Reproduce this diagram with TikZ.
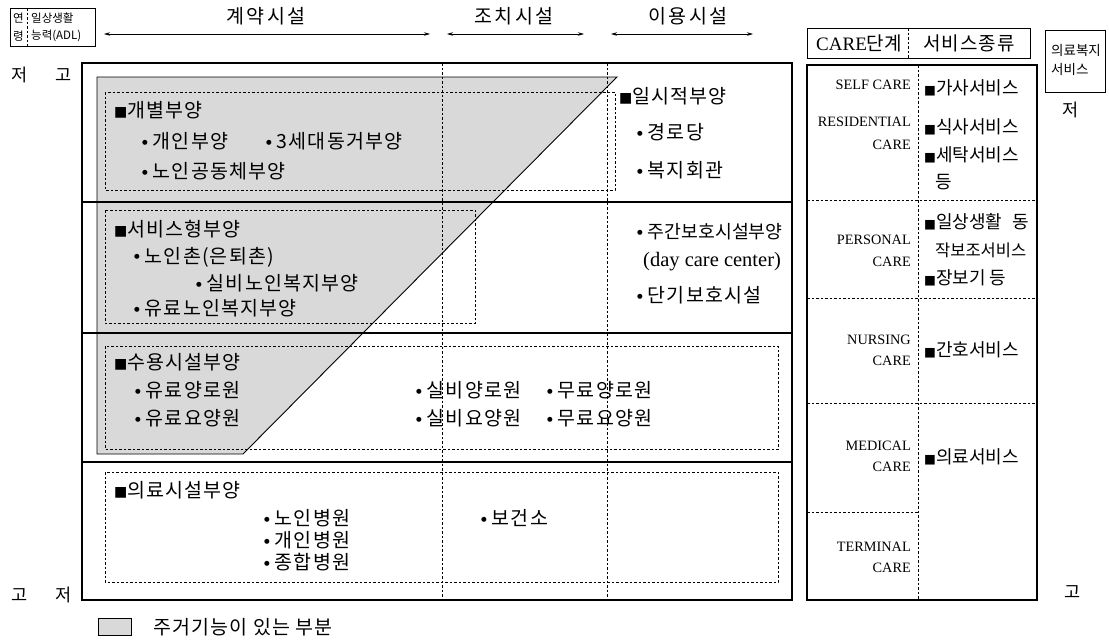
\documentclass[tikz,border=0pt]{standalone}
\usepackage{fontspec}
\setmainfont{Liberation Serif}
\newfontfamily\kr{Noto Sans CJK KR}
\newfontfamily\krw{Noto Sans CJK KR}[LetterSpace=6]
\newfontfamily\krh{Noto Sans CJK KR}[LetterSpace=12]
\newfontfamily\dv{DejaVu Sans}
\usetikzlibrary{arrows.meta}
\newcommand\sqb{{\dv\fontsize{14}{14}\selectfont\raisebox{0.5pt}{■}}}
\newcommand\sqs{{\dv\fontsize{12.5}{12}\selectfont\raisebox{0.5pt}{■}}}
\newcommand\bul{{\dv\fontsize{6.5}{7}\selectfont\raisebox{4.2pt}{●}}\hspace{5pt}}
\begin{document}
\begin{tikzpicture}[x=1pt,y=-1pt,
  kt/.style={font=\krw\fontsize{19.5}{22}\selectfont, anchor=west, inner sep=0pt},
  ks/.style={font=\kr\fontsize{18}{20}\selectfont, anchor=west, inner sep=0pt},
  hd/.style={font=\krh\fontsize{19.5}{22}\selectfont, inner sep=0pt},
  lab/.style={font=\kr\fontsize{17.5}{20}\selectfont, inner sep=0pt},
  sm/.style={font=\kr\fontsize{11.5}{13}\selectfont, inner sep=0pt, anchor=west},
  en/.style={font=\fontsize{14.3}{16}\selectfont, anchor=east, inner sep=0pt},
  dl/.style={line width=0.7pt, dash pattern=on 2.5pt off 2pt},
  sl/.style={line width=1.1pt},
  arr/.style={line width=0.7pt, {Stealth[length=6pt,width=3.5pt]}-{Stealth[length=6pt,width=3.5pt]}},
  shade/.style={fill=black!15, line width=0.9pt}]
\useasboundingbox (0,0) rectangle (1109,640);

% ---- top-left ADL box
\draw[line width=0.9pt] (10,8) rectangle (95,46);
\draw[dl] (27,8) -- (27,46);
\node[sm] (ageA) at (13,18) {연};
\node[sm] (ageB) at (13,36) {령};
\node[sm] (adlA) at (31,18) {일상생활};
\node[sm] (adlB) at (31,36) {능력(ADL)};

% ---- headings and arrows
\node[hd] (hA) at (266,16) {계약시설};
\node[hd] (hB) at (514,16) {조치시설};
\node[hd] (hC) at (688,16) {이용시설};
\coordinate (aAl) at (104,34); \coordinate (aAr) at (430,34);
\coordinate (aBl) at (447,34); \coordinate (aBr) at (584,34);
\coordinate (aCl) at (611,34); \coordinate (aCr) at (753,34);
\draw[arr] (aAl) -- (aAr);
\draw[arr] (aBl) -- (aBr);
\draw[arr] (aCl) -- (aCr);

% ---- side labels
\node[lab] (lt1) at (20,75) {저};
\node[lab] (lt2) at (64,75) {고};
\node[lab] (lb1) at (20,595) {고};
\node[lab] (lb2) at (64,595) {저};

% ---- shaded residential area
\draw[shade] (97,77) -- (617,77) -- (243,454) -- (97,454) -- cycle;

% ---- main frame
\draw[sl] (82,63) rectangle (792,600);
\draw[sl] (82,202) -- (792,202);
\draw[sl] (82,333) -- (792,333);
\draw[sl] (82,462) -- (792,462);
\draw[dl] (442,63) -- (442,600);
\draw[dl] (607,63) -- (607,600);
\draw[dl] (105,92) rectangle (615,190);
\draw[dl] (105,210) rectangle (475,323);
\draw[dl] (105,346) rectangle (778,449);
\draw[dl] (105,472) rectangle (778,582);

% ---- row 1
\node[kt] (r1a) at (114,110) {\sqb 개별부양};
\node[kt] (r1b) at (142,141) {\bul 개인부양};
\node[kt] (r1c) at (266,141) {\bul 3세대동거부양};
\node[kt] (r1d) at (142,171) {\bul 노인공동체부양};
\node[kt] (r1e) at (619,96) {\sqb 일시적부양};
\node[kt] (r1f) at (637,132) {\bul 경로당};
\node[kt] (r1g) at (637,170) {\bul 복지회관};

% ---- row 2
\node[kt] (r2a) at (114,229) {\sqb 서비스형부양};
\node[kt] (r2b) at (134,257) {\bul 노인촌(은퇴촌)};
\node[kt] (r2c) at (196,283) {\bul 실비노인복지부양};
\node[kt] (r2d) at (134,308) {\bul 유료노인복지부양};
\node[kt, font=\kr\fontsize{18.3}{22}\selectfont] (r2e) at (637,232) {\bul 주간보호시설부양};
\node[kt, font=\fontsize{20.5}{22}\selectfont] (r2f) at (643,262) {(day care center)};
\node[kt] (r2g) at (637,295) {\bul 단기보호시설};

% ---- row 3
\node[kt] (r3a) at (114,362) {\sqb 수용시설부양};
\node[kt] (r3b) at (135,390) {\bul 유료양로원};
\node[kt] (r3c) at (135,418) {\bul 유료요양원};
\node[kt] (r3d) at (416,390) {\bul 실비양로원};
\node[kt] (r3e) at (547,390) {\bul 무료양로원};
\node[kt] (r3f) at (416,418) {\bul 실비요양원};
\node[kt] (r3g) at (547,418) {\bul 무료요양원};

% ---- row 4
\node[kt] (r4a) at (114,490) {\sqb 의료시설부양};
\node[kt] (r4b) at (264,518) {\bul 노인병원};
\node[kt] (r4c) at (264,540) {\bul 개인병원};
\node[kt] (r4d) at (264,562) {\bul 종합병원};
\node[kt] (r4e) at (481,518) {\bul 보건소};

% ---- legend
\draw[shade, line width=0.8pt] (98,618) rectangle (131,635);
\node[kt] (leg) at (153,627) {주거기능이 있는 부분};

% ---- right panel header
\draw[line width=0.9pt] (807,28) rectangle (1030,58);
\draw[dl] (908,28) -- (908,58);
\node[inner sep=0pt, font=\fontsize{19}{20}\selectfont] (care) at (859,43) {CARE{\kr 단계}};
\node[hd, font=\krw\fontsize{19}{20}\selectfont] (svc) at (969,43) {서비스종류};
\draw[line width=0.9pt] (1045,30) rectangle (1105,92);
\node[sm, font=\kr\fontsize{13.5}{14}\selectfont] (mw1) at (1051,50) {의료복지};
\node[sm, font=\kr\fontsize{13.5}{14}\selectfont] (mw2) at (1051,69) {서비스};
\node[lab] (rlo) at (1071,110) {저};
\node[lab] (rhi) at (1073,592) {고};

% ---- right panel
\draw[sl] (807,65) rectangle (1037,600);
\draw[dl] (918,65) -- (918,600);
\draw[dl] (807,200) -- (1037,200);
\draw[dl] (807,298) -- (1037,298);
\draw[dl] (807,403) -- (1037,403);
\draw[dl] (807,512) -- (918,512);

\node[en] (c1) at (911,85) {SELF CARE};
\node[en] (c2a) at (911,122) {RESIDENTIAL};
\node[en] (c2b) at (911,145) {CARE};
\node[en] (c3a) at (911,240) {PERSONAL};
\node[en] (c3b) at (911,262) {CARE};
\node[en] (c4a) at (911,340) {NURSING};
\node[en] (c4b) at (911,361) {CARE};
\node[en] (c5a) at (911,446) {MEDICAL};
\node[en] (c5b) at (911,467) {CARE};
\node[en] (c6a) at (911,547) {TERMINAL};
\node[en] (c6b) at (911,568) {CARE};

\node[ks] (s1) at (924,88) {\sqs 가사서비스};
\node[ks] (s2) at (924,127) {\sqs 식사서비스};
\node[ks] (s3) at (924,155) {\sqs 세탁서비스};
\node[ks] (s3b) at (935,182) {등};
\node[ks] (s4) at (924,222) {\sqs 일상생활\hspace{10pt}동};
\node[ks, font=\kr\fontsize{16.5}{20}\selectfont] (s4b) at (935,250) {작보조서비스};
\node[ks] (s5) at (924,278) {\sqs 장보기 등};
\node[ks] (s6) at (924,350) {\sqs 간호서비스};
\node[ks] (s7) at (924,457) {\sqs 의료서비스};
\end{tikzpicture}
\end{document}
